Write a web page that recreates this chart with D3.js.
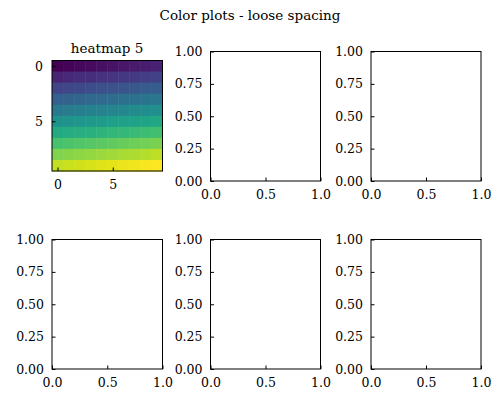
<!DOCTYPE html>
<html><head><meta charset="utf-8">
<script src="https://cdn.jsdelivr.net/npm/d3@7"></script>
<style>body{margin:0}text{font-family:"DejaVu Serif",serif;fill:#000}</style>
</head><body><div id="chart-area"></div>
<script>
// heatmap values: row*10 + col
let rows = d3.range(10);
let cols = d3.range(10);
let heat = rows.flatMap(r => cols.map(c => ({r: r, c: c, v: r * 10 + c})));
let heatTicks = [0, 5];
let unitTicks = [0, 0.25, 0.5, 0.75, 1];
let xUnitTicks = [0, 0.5, 1];

let svg = d3.select("#chart-area").append("svg")
	.attr("width", 500).attr("height", 404);

svg.append("text").attr("x", 250).attr("y", 20).attr("text-anchor", "middle")
	.style("font-size", "13.5px").text("Color plots - loose spacing");

let color = d3.scaleSequential(d3.interpolateViridis).domain([0, 99]);

// heatmap panel
let hx = d3.scaleLinear().domain([-0.5, 9.5]).range([52, 162.5]);
let hy = d3.scaleLinear().domain([-0.5, 9.5]).range([60.5, 171]);
let hg = svg.append("g");
hg.selectAll("rect").data(heat).enter().append("rect")
	.attr("x", d => hx(d.c - 0.5)).attr("y", d => hy(d.r - 0.5))
	.attr("width", hx(1) - hx(0) + 0.5).attr("height", hy(1) - hy(0) + 0.5)
	.attr("fill", d => color(d.v));
hg.append("rect").attr("x", 52).attr("y", 60.5).attr("width", 110.5).attr("height", 110.5)
	.attr("fill", "none").attr("stroke", "#000");
hg.append("g").attr("transform", "translate(0,171)")
	.call(d3.axisBottom(hx).tickValues(heatTicks).tickSizeInner(-3.5).tickSizeOuter(0).tickPadding(9))
	.call(g => g.select(".domain").remove());
hg.append("g").attr("transform", "translate(52,0)")
	.call(d3.axisLeft(hy).tickValues(heatTicks).tickSizeInner(-3.5).tickSizeOuter(0).tickPadding(9))
	.call(g => g.select(".domain").remove());
hg.append("text").attr("x", 107).attr("y", 53).attr("text-anchor", "middle")
	.style("font-size", "13.5px").text("heatmap 5");

// empty panels
let panels = [
	{x0: 210.5, x1: 320.5, y0: 51.5, y1: 181},
	{x0: 371, x1: 481, y0: 51.5, y1: 181},
	{x0: 52, x1: 162.5, y0: 239.5, y1: 369},
	{x0: 210.5, x1: 320.5, y0: 239.5, y1: 369},
	{x0: 371, x1: 481, y0: 239.5, y1: 369}
];
panels.forEach(p => {
	let x = d3.scaleLinear().domain([0, 1]).range([p.x0, p.x1]);
	let y = d3.scaleLinear().domain([0, 1]).range([p.y1, p.y0]);
	let g = svg.append("g");
	g.append("g").attr("transform", `translate(0,${p.y1})`)
		.call(d3.axisBottom(x).tickValues(xUnitTicks).tickFormat(d3.format(".1f")).tickSizeInner(-3.5).tickSizeOuter(0).tickPadding(9))
		.call(a => a.select(".domain").remove());
	g.append("g").attr("transform", `translate(${p.x0},0)`)
		.call(d3.axisLeft(y).tickValues(unitTicks).tickFormat(d3.format(".2f")).tickSizeInner(-3.5).tickSizeOuter(0).tickPadding(8))
		.call(a => a.select(".domain").remove());
	g.append("rect").attr("x", p.x0).attr("y", p.y0).attr("width", p.x1 - p.x0).attr("height", p.y1 - p.y0)
		.attr("fill", "none").attr("stroke", "#000");
});
svg.selectAll(".tick text").style("font-size", "12.5px").attr("font-family", null);
</script>
</body></html>
